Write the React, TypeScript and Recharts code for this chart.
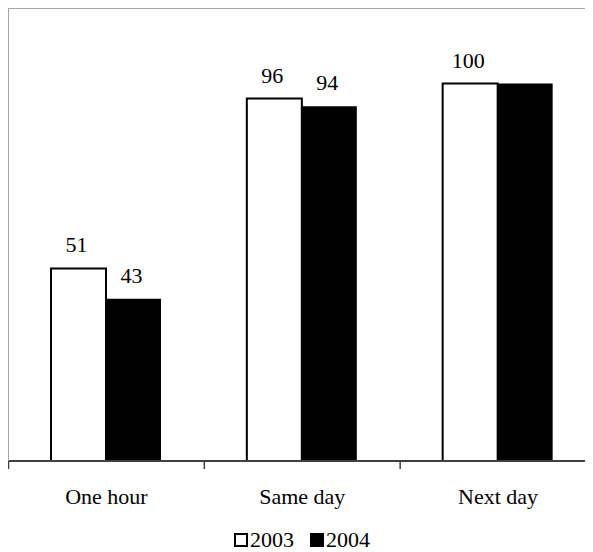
import React from "react";
import {
  BarChart,
  Bar,
  XAxis,
  YAxis,
  Legend,
  LabelList,
  ReferenceLine,
} from "recharts";

// categories and values per year
const categories = ["One hour", "Same day", "Next day"];
const values2003 = [51, 96, 100];
const values2004 = [43, 94, 100];
// the 2004 "Next day" value sits under the 2003 label, so it is left unlabelled
const labelled2004 = [true, true, false];
const yDomain = [0, 120];

const data = categories.map((name, i) => ({
  name,
  y2003: values2003[i],
  y2004: values2004[i],
}));

const FONT = "Liberation Serif, DejaVu Serif, Times New Roman, serif";
const CHART_W = 590;
const CHART_H = 544;
const MARGIN = { top: 0, right: 2, bottom: 0, left: 0 };
const Y_W = 0.5;
const BAND = (CHART_W - MARGIN.left - MARGIN.right - Y_W) / categories.length;

function CategoryTick(props: any) {
  const { x, y, payload, index } = props;
  const left = x - BAND / 2;
  const right = x + BAND / 2;
  return (
    <g>
      <line x1={left} x2={left} y1={y} y2={y + 8} stroke="#404040" strokeWidth={1.5} />
      {index === categories.length - 1 && (
        <line x1={right} x2={right} y1={y} y2={y + 8} stroke="#404040" strokeWidth={1.5} />
      )}
      <text x={x} y={y + 43} textAnchor="middle" fontFamily={FONT} fontSize={22} fill="#000">
        {payload.value}
      </text>
    </g>
  );
}

function valueLabel(show?: boolean[]) {
  return (props: any) => {
    const { x, y, width, value, index } = props;
    if (show && !show[index]) return null;
    return (
      <text
        x={x + width / 2 - 2}
        y={y - 16}
        textAnchor="middle"
        fontFamily={FONT}
        fontSize={22}
        fill="#000"
      >
        {value}
      </text>
    );
  };
}

function LegendBox() {
  const items = [
    { label: "2003", fill: "#fff" },
    { label: "2004", fill: "#000" },
  ];
  return (
    <div
      style={{
        display: "flex",
        justifyContent: "center",
        alignItems: "center",
        height: 24,
        fontFamily: FONT,
        fontSize: 22,
        lineHeight: "24px",
        color: "#000",
      }}
    >
      {items.map((it, i) => (
        <div
          key={it.label}
          style={{ display: "flex", alignItems: "center", marginRight: i === 0 ? 16 : 0 }}
        >
          <span
            style={{
              display: "inline-block",
              width: 14,
              height: 14,
              boxSizing: "border-box",
              border: "2px solid #000",
              background: it.fill,
              marginRight: 2,
            }}
          />
          <span>{it.label}</span>
        </div>
      ))}
    </div>
  );
}

export default function App() {
  return (
    <div style={{ width: 585, overflow: "hidden" }}>
      <BarChart
        width={CHART_W}
        height={CHART_H}
        data={data}
        margin={MARGIN}
        barCategoryGap="21.7%"
        barGap={0}
      >
        <XAxis
          dataKey="name"
          height={67}
          tickLine={false}
          tickSize={0}
          tickMargin={0}
          axisLine={{ stroke: "#404040", strokeWidth: 2 }}
          tick={<CategoryTick />}
          interval={0}
        />
        <YAxis
          domain={yDomain}
          width={Y_W}
          tick={false}
          tickLine={false}
          axisLine={{ stroke: "#a6a6a6", strokeWidth: 1 }}
          allowDataOverflow
        />
        <ReferenceLine y={yDomain[1]} stroke="#a6a6a6" strokeWidth={2} />
        <Legend verticalAlign="bottom" content={<LegendBox />} />
        <Bar dataKey="y2003" fill="#fff" stroke="#000" strokeWidth={2} isAnimationActive={false}>
          <LabelList dataKey="y2003" content={valueLabel()} />
        </Bar>
        <Bar dataKey="y2004" fill="#000" isAnimationActive={false}>
          <LabelList dataKey="y2004" content={valueLabel(labelled2004)} />
        </Bar>
      </BarChart>
    </div>
  );
}
